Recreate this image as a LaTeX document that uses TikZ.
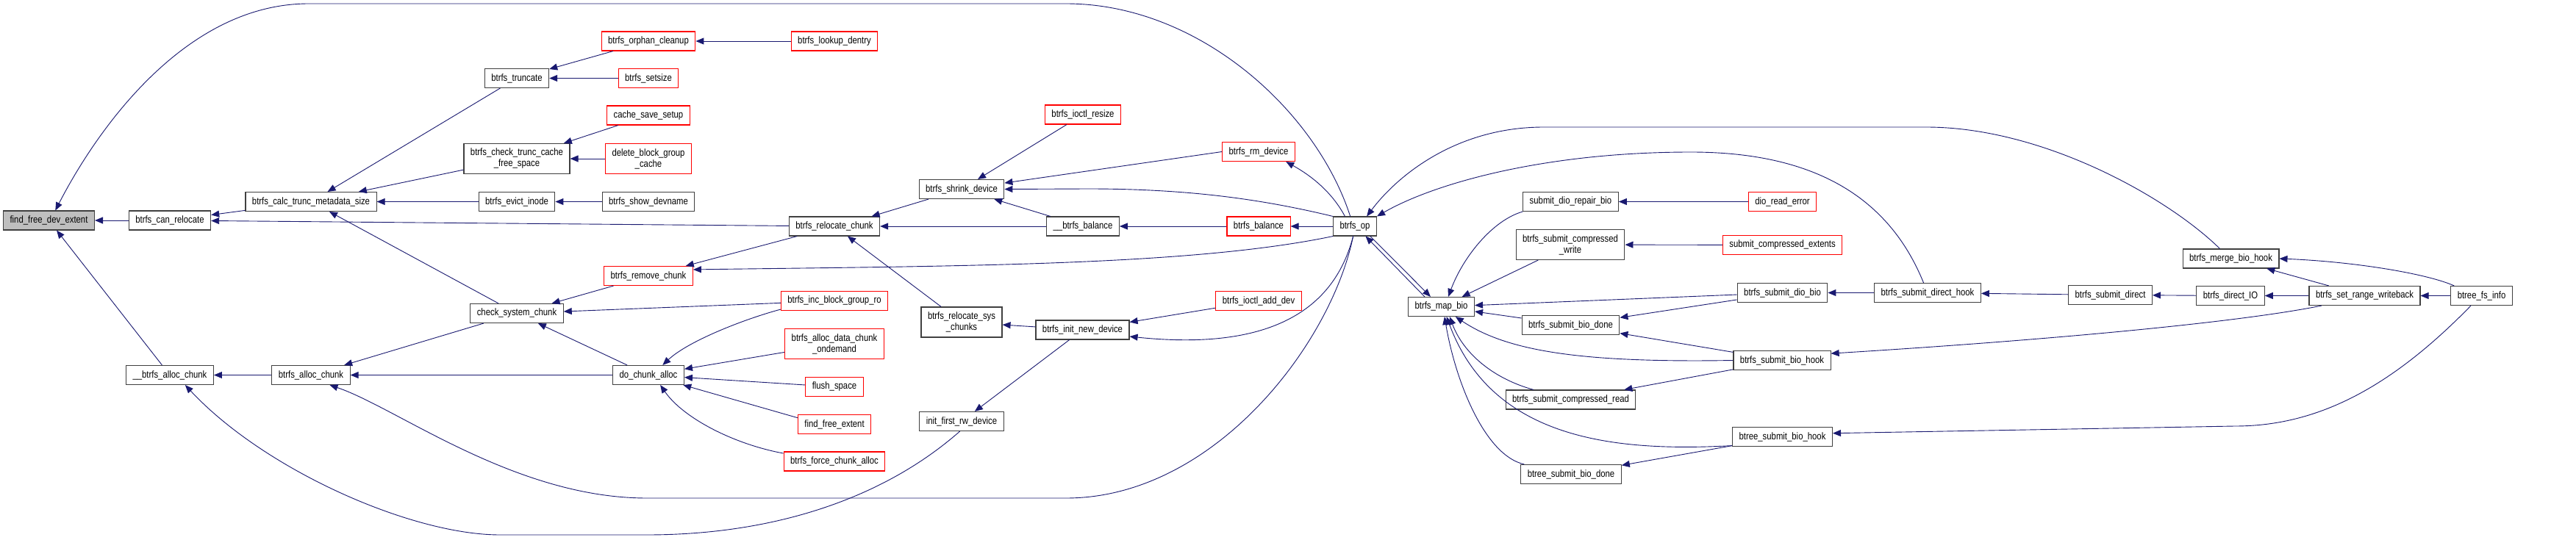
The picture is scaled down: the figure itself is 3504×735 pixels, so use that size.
\documentclass[tikz,border=0pt]{standalone}
\usepackage{fontspec}
\setmainfont{Liberation Sans}[FakeStretch=0.84]
\usetikzlibrary{arrows.meta,calc}
\definecolor{edgeblue}{RGB}{25,25,112}
\definecolor{boxline}{RGB}{64,64,64}
\definecolor{truncred}{RGB}{255,0,0}
\definecolor{selgray}{RGB}{191,191,191}

\begin{document}
\begin{tikzpicture}[x=1pt, y=1pt,
    fn/.style={rectangle, draw=boxline, fill=white, line width=1.1pt, minimum height=26pt,
               inner xsep=9pt, inner ysep=2pt, align=center, font=\fontsize{13.5}{15}\selectfont},
    fntall/.style={fn, minimum height=41pt},
    trunc/.style={fn, draw=truncred},
    trunctall/.style={trunc, minimum height=41pt},
    sel/.style={fn, fill=selgray},
    call/.style={draw=edgeblue, line width=0.9pt, -{Triangle[length=11pt,width=9pt]}}
]
    \fill[white] (0,0) rectangle (3504,-735);
    \useasboundingbox (0,0) rectangle (3504,-735);

    % ranks 0 to 4
    \node[sel] (ffde) at (66.5,-300) {find\_free\_dev\_extent};
    \node[fn] (canreloc) at (231,-300) {btrfs\_can\_relocate};
    \node[fn] (allocchunkint) at (231,-510.5) {\_\_btrfs\_alloc\_chunk};
    \node[fn] (calctrunc) at (423,-274.5) {btrfs\_calc\_trunc\_metadata\_size};
    \node[fn] (allocchunk) at (423,-510.5) {btrfs\_alloc\_chunk};
    \node[fn] (truncate) at (703,-106.5) {btrfs\_truncate};
    \node[fntall] (checktrunc) at (703,-216) {btrfs\_check\_trunc\_cache\\\_free\_space};
    \node[fn] (evict) at (703,-274.5) {btrfs\_evict\_inode};
    \node[fn] (checksys) at (703,-426.5) {check\_system\_chunk};
    \node[trunc] (orphan) at (882,-56) {btrfs\_orphan\_cleanup};
    \node[trunc] (setsize) at (882,-106.5) {btrfs\_setsize};
    \node[trunc] (cachesave) at (882,-157) {cache\_save\_setup};
    \node[trunctall] (delbg) at (882,-216) {delete\_block\_group\\\_cache};
    \node[fn] (showdev) at (882,-274.5) {btrfs\_show\_devname};
    \node[trunc] (removechunk) at (882,-375.5) {btrfs\_remove\_chunk};
    \node[fn] (dochunk) at (882,-510.5) {do\_chunk\_alloc};

    % ranks 5 to 8
    \node[trunc] (lookup) at (1135,-56) {btrfs\_lookup\_dentry};
    \node[fn] (relocchunk) at (1135,-308) {btrfs\_relocate\_chunk};
    \node[trunc] (incbg) at (1135,-409.5) {btrfs\_inc\_block\_group\_ro};
    \node[trunctall] (allocdata) at (1135,-468) {btrfs\_alloc\_data\_chunk\\\_ondemand};
    \node[trunc] (flush) at (1135,-526.5) {flush\_space};
    \node[trunc] (findext) at (1135,-577.5) {find\_free\_extent};
    \node[trunc] (force) at (1135,-628) {btrfs\_force\_chunk\_alloc};
    \node[fn] (shrink) at (1308,-257.5) {btrfs\_shrink\_device};
    \node[fntall] (relocsys) at (1308,-438.5) {btrfs\_relocate\_sys\\\_chunks};
    \node[fn] (firstrw) at (1308,-573.5) {init\_first\_rw\_device};
    \node[trunc] (resize) at (1473,-156) {btrfs\_ioctl\_resize};
    \node[fn] (balanceint) at (1473,-308) {\_\_btrfs\_balance};
    \node[fn] (initnew) at (1472.5,-449) {btrfs\_init\_new\_device};
    \node[trunc] (rmdev) at (1712,-206.5) {btrfs\_rm\_device};
    \node[trunc] (balance) at (1712,-308) {btrfs\_balance};
    \node[trunc] (adddev) at (1712,-409.5) {btrfs\_ioctl\_add\_dev};

    % ranks 9 to 17
    \node[fn] (op) at (1843,-308) {btrfs\_op};
    \node[fn] (mapbio) at (1960.5,-417.5) {btrfs\_map\_bio};
    \node[fn] (repair) at (2136.5,-274.5) {submit\_dio\_repair\_bio};
    \node[fntall] (compwrite) at (2136,-333) {btrfs\_submit\_compressed\\\_write};
    \node[fn] (biodone) at (2136.5,-442.5) {btrfs\_submit\_bio\_done};
    \node[fn] (compread) at (2136.5,-544) {btrfs\_submit\_compressed\_read};
    \node[fn] (btreedone) at (2137,-645.5) {btree\_submit\_bio\_done};
    \node[trunc] (readerr) at (2424.5,-274.5) {dio\_read\_error};
    \node[trunc] (compext) at (2424.5,-333.5) {submit\_compressed\_extents};
    \node[fn] (diobio) at (2424.5,-398.5) {btrfs\_submit\_dio\_bio};
    \node[fn] (biohook) at (2424,-490.5) {btrfs\_submit\_bio\_hook};
    \node[fn] (btreehook) at (2424.5,-594.5) {btree\_submit\_bio\_hook};
    \node[fn] (directhook) at (2622,-398.5) {btrfs\_submit\_direct\_hook};
    \node[fn] (direct) at (2870.5,-401.5) {btrfs\_submit\_direct};
    \node[fn] (mergehook) at (3034.5,-352) {btrfs\_merge\_bio\_hook};
    \node[fn] (directio) at (3034,-402.5) {btrfs\_direct\_IO};
    \node[fn] (setrange) at (3216.5,-402.5) {btrfs\_set\_range\_writeback};
    \node[fn] (fsinfo) at (3375.5,-402.5) {btree\_fs\_info};

    % callers of find_free_dev_extent and the left ranks
    \draw[call] (canreloc) -- (ffde);
    \draw[call] (allocchunkint) -- (ffde);
    \draw[call] (op.115) .. controls (1790,-150) and (1630,-5) .. (1450,-5) -- (420,-5)
        .. controls (250,-5) and (130,-180) .. (ffde.57);
    \draw[call] (calctrunc) -- (canreloc);
    \draw[call] (relocchunk) -- (canreloc);
    \draw[call] (truncate) -- (calctrunc);
    \draw[call] (checktrunc) -- (calctrunc);
    \draw[call] (evict) -- (calctrunc);
    \draw[call] (checksys) -- (calctrunc);
    \draw[call] (allocchunk) -- (allocchunkint);
    \draw[call] (firstrw.-100) .. controls (1200,-680) and (1050,-728) .. (880,-728) -- (680,-728)
        .. controls (560,-728) and (360,-640) .. (allocchunkint.-33);
    \draw[call] (dochunk) -- (allocchunk);
    \draw[call] (checksys) -- (allocchunk);
    \draw[call] (op.-100) .. controls (1810,-470) and (1650,-678) .. (1450,-678) -- (880,-678)
        .. controls (700,-678) and (540,-555) .. (allocchunk.-28);

    \draw[call] (orphan) -- (truncate);
    \draw[call] (setsize) -- (truncate);
    \draw[call] (lookup) -- (orphan);
    \draw[call] (cachesave) -- (checktrunc);
    \draw[call] (delbg) -- (checktrunc);
    \draw[call] (showdev) -- (evict);
    \draw[call] (removechunk) -- (checksys);
    \draw[call] (incbg) -- (checksys);
    \draw[call] (dochunk) -- (checksys);
    \draw[call] (relocchunk) -- (removechunk);
    \draw[call] (op.south west) .. controls (1620,-362) and (1300,-362) .. (removechunk.8);

    \draw[call] (incbg.-171) .. controls (1010,-435) and (935,-465) .. (dochunk.35);
    \draw[call] (allocdata) -- (dochunk);
    \draw[call] (flush) -- (dochunk);
    \draw[call] (findext.170) -- (dochunk);
    \draw[call] (force.171) .. controls (1000,-605) and (930,-570) .. (dochunk.-40);

    % middle ranks
    \draw[call] (shrink) -- (relocchunk.15);
    \draw[call] (balanceint) -- (relocchunk);
    \draw[call] (relocsys) -- (relocchunk);
    \draw[call] (resize) -- (shrink);
    \draw[call] (rmdev.west) -- (shrink);
    \draw[call] (balanceint) -- (shrink);
    \draw[call] (op.north west) .. controls (1720,-272) and (1620,-257) .. (1480,-257) -- (shrink.east);
    \draw[call] (balance) -- (balanceint);
    \draw[call] (op) -- (balance);
    \draw[call] (op.135) .. controls (1812,-262) and (1785,-240) .. (rmdev.-20);
    \draw[call] (initnew) -- (relocsys);
    \draw[call] (initnew) -- (firstrw);
    \draw[call] (adddev) -- (initnew);
    \draw[call] (op.-100) .. controls (1810,-440) and (1700,-475) .. (initnew.-8);

    % btrfs_map_bio and its callers
    \draw[call] (mapbio.149) -- (op.-43);
    \draw[call] (op.-33) -- (mapbio.137);
    \draw[call] (repair.south west) .. controls (2030,-300) and (1990,-350) .. (mapbio.55);
    \draw[call] (compwrite) -- (mapbio);
    \draw[call] (diobio) -- (mapbio);
    \draw[call] (biodone) -- (mapbio);
    \draw[call] (biohook.west) .. controls (2150,-494) and (2050,-478) .. (mapbio.-35);
    \draw[call] (compread.165) .. controls (2030,-515) and (1990,-480) .. (mapbio.-50);
    \draw[call] (btreehook.-170) .. controls (2200,-615) and (2030,-600) .. (mapbio.-62);
    \draw[call] (btreedone.168) .. controls (2020,-620) and (1980,-520) .. (mapbio.-72);

    % right ranks
    \draw[call] (readerr) -- (repair);
    \draw[call] (compext) -- (compwrite);
    \draw[call] (diobio) -- (biodone);
    \draw[call] (biohook) -- (biodone);
    \draw[call] (biohook) -- (compread);
    \draw[call] (btreehook) -- (btreedone);
    \draw[call] (directhook) -- (diobio);
    \draw[call] (direct) -- (directhook);
    \draw[call] (directio) -- (direct);
    \draw[call] (setrange) -- (directio);
    \draw[call] (fsinfo) -- (setrange);
    \draw[call] (setrange) -- (mergehook);
    \draw[call] (fsinfo.160) .. controls (3300,-372) and (3200,-356) .. (mergehook.east);
    \draw[call] (setrange.-167) .. controls (3050,-438) and (2800,-462) .. (biohook.8);
    \draw[call] (fsinfo.-137) .. controls (3250,-530) and (3150,-580) .. (3040,-580) -- (btreehook.4);
    \draw[call] (directhook.112) .. controls (2570,-270) and (2470,-207) .. (2300,-207)
        .. controls (2100,-207) and (1950,-250) .. (op.north east);
    \draw[call] (mergehook.138) .. controls (2950,-270) and (2780,-173) .. (2620,-173) -- (2100,-173)
        .. controls (1980,-173) and (1900,-240) .. (op.40);
\end{tikzpicture}
\end{document}
